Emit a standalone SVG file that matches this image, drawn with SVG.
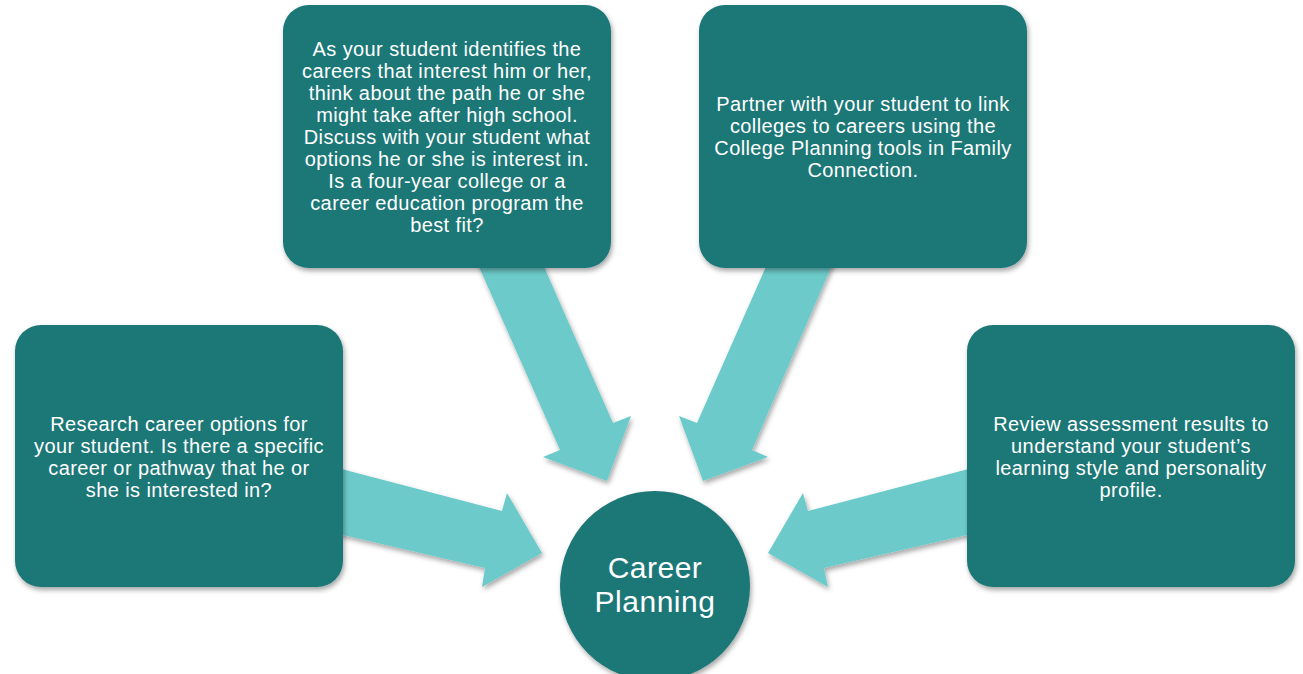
<svg xmlns="http://www.w3.org/2000/svg" width="1303" height="674" viewBox="0 0 1303 674">
<defs>
<filter id="sh" x="-20%" y="-20%" width="140%" height="140%">
<feDropShadow dx="1.5" dy="3" stdDeviation="2.5" flood-color="#000" flood-opacity="0.35"/>
</filter>
<style>
.box{fill:#1F7777;filter:url(#sh)}
.arr{fill:#6CCBCA;filter:url(#sh)}
.t{font-family:"Liberation Sans",Arial,sans-serif;font-size:20px;letter-spacing:0.4px;fill:#fff;text-anchor:middle}
.c{font-family:"Liberation Sans",Arial,sans-serif;font-size:30px;letter-spacing:0.5px;fill:#fff;text-anchor:middle}
</style>
</defs>
<rect width="1303" height="674" fill="#fff"/>
<g id="connectors">
<polygon class="arr" points="465,235 560,450 543,457 607,481 631,416 613,423 530,235"/>
<polygon class="arr" points="845,235 752,450 768,457 703,481 679,416 697,423 780,235"/>
<polygon class="arr" points="330,466 502,511 507,493 542,553 482,587 485,568 330,532"/>
<polygon class="arr" points="980,466 808,511 803,493 768,553 828,587 824,568 980,532"/>
</g>
<g id="node-top-left">
<rect class="box" x="283" y="5" width="328" height="263" rx="26"/>
<text class="t" x="447" y="56">As your student identifies the</text>
<text class="t" x="447" y="78">careers that interest him or her,</text>
<text class="t" x="447" y="100">think about the path he or she</text>
<text class="t" x="447" y="122">might take after high school.</text>
<text class="t" x="447" y="144">Discuss with your student what</text>
<text class="t" x="447" y="166">options he or she is interest in.</text>
<text class="t" x="447" y="188">Is a four-year college or a</text>
<text class="t" x="447" y="210">career education program the</text>
<text class="t" x="447" y="232">best fit?</text>
</g>
<g id="node-top-right">
<rect class="box" x="699" y="5" width="328" height="263" rx="26"/>
<text class="t" x="863" y="111">Partner with your student to link</text>
<text class="t" x="863" y="133">colleges to careers using the</text>
<text class="t" x="863" y="155">College Planning tools in Family</text>
<text class="t" x="863" y="177">Connection.</text>
</g>
<g id="node-left">
<rect class="box" x="15" y="325" width="328" height="262" rx="26"/>
<text class="t" x="179" y="431">Research career options for</text>
<text class="t" x="179" y="453">your student. Is there a specific</text>
<text class="t" x="179" y="475">career or pathway that he or</text>
<text class="t" x="179" y="497">she is interested in?</text>
</g>
<g id="node-right">
<rect class="box" x="967" y="325" width="328" height="262" rx="26"/>
<text class="t" x="1131" y="431">Review assessment results to</text>
<text class="t" x="1131" y="453">understand your student’s</text>
<text class="t" x="1131" y="475">learning style and personality</text>
<text class="t" x="1131" y="497">profile.</text>
</g>
<g id="node-center">
<circle cx="655" cy="586" r="95" fill="#1F7777" filter="url(#sh)"/>
<text class="c" x="655" y="578">Career</text>
<text class="c" x="655" y="612">Planning</text>
</g>
</svg>
